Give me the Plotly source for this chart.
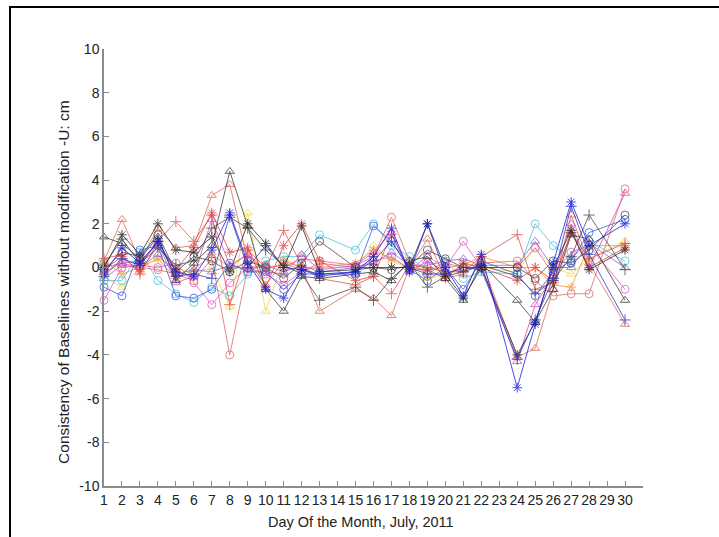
import plotly.graph_objects as go

days = [1, 2, 3, 4, 5, 6, 7, 8, 9, 10, 11, 12, 13, 15, 16, 17, 18, 19, 20, 21, 22, 24, 25, 26, 27, 28, 30]
x_ticks = list(range(1, 31))
y_ticks = list(range(-10, 11, 2))
x_title = "Day Of the Month, July, 2011"
y_title = "Consistency of Baselines without modification -U: cm"

s_blue_star = [-0.3, 0.9, 0.2, 1.2, -0.2, -0.4, 0.8, 2.5, 0.2, -1.0, -1.4, -0.1, -0.3, -0.2, 0.5, 1.8, -0.2, 2.0, 0.0, -1.3, 0.6, -5.5, -2.6, 0.2, 3.0, 1.0, 2.0]
s_red_tri = [0.3, 2.2, 0.3, 1.8, 0.9, 1.0, 3.3, 3.8, 0.3, -0.8, 0.3, 0.0, -2.0, -1.0, -1.4, -2.2, 0.0, 1.3, -0.5, -0.3, 0.3, -4.1, -3.7, -1.0, 2.4, 0.2, -2.6]
s_black_tri = [1.4, 1.1, 0.4, 1.4, -0.6, 0.2, 1.0, 4.4, 1.9, -1.0, -2.0, -0.4, -0.5, -0.3, -0.2, -0.6, 0.3, 0.5, -0.5, -1.5, 0.2, -1.5, -2.5, -1.0, 1.5, 1.3, -1.5]
s_red_circ = [-0.2, 0.2, 0.0, -0.1, -0.3, -0.6, 0.4, -4.0, 0.0, 0.1, 0.0, 0.4, 0.3, 0.1, 0.5, 2.3, 0.3, -0.3, 0.2, 0.0, 0.2, 0.3, -0.6, -1.3, -1.2, -1.2, 3.6]
s_black_star = [0.0, 1.5, 0.6, 2.0, 0.8, 0.7, 1.4, -0.2, 2.0, 1.1, 0.0, 1.9, -0.2, -0.1, 0.0, 0.0, 0.0, 2.0, -0.3, -1.4, 0.0, -4.0, -2.5, 0.0, 1.7, -0.1, 0.8]
s_cyan_circ = [-0.6, -0.6, 0.7, -0.6, -1.2, -1.6, -0.9, -1.3, -0.3, 0.3, 0.5, 0.5, 1.5, 0.8, 2.0, 1.0, 0.5, -0.2, 0.3, -0.5, -0.2, -0.3, 2.0, 1.0, 0.4, 1.2, 0.3]
s_mag_circ = [-1.5, 0.0, 0.1, 0.0, 0.2, -0.7, -1.7, -0.7, 0.0, -0.3, -0.8, -0.2, 0.2, 0.0, 0.3, 0.5, -0.1, 0.5, 0.0, 1.2, 0.0, 0.0, 0.9, -0.3, 0.7, 1.0, -1.0]
s_red_plus = [0.4, 0.6, -0.3, 1.2, 2.1, 1.2, 2.4, -1.7, 0.8, 0.0, 1.7, 0.1, -0.5, -0.8, -0.4, -1.2, 0.1, 0.0, -0.2, -0.2, 0.5, 1.5, -1.0, -0.7, 1.6, 0.4, 1.1]
s_black_plus = [0.1, 1.3, 0.2, 0.9, 0.1, 0.3, 1.8, 2.3, 1.8, 0.8, 0.1, -0.3, -1.5, -0.9, -1.5, -0.5, 0.2, -0.9, -0.4, -0.2, 0.1, -0.4, -1.2, -0.6, 0.5, 2.4, -0.1]
s_blue_circ = [-0.9, -1.3, 0.8, 1.0, -1.3, -1.4, -1.0, 0.2, -0.2, -0.2, -1.0, -0.3, -0.3, -0.3, 1.9, 1.2, -0.1, -0.6, 0.0, -1.0, 0.3, -0.3, -1.3, -0.2, 0.3, 1.6, 2.2]
s_yellow_tri = [-0.4, -0.9, 0.0, 0.4, 0.0, -0.3, 0.0, -1.8, 2.5, -2.0, 0.4, 0.0, 0.0, 0.0, 1.0, 0.3, 0.0, -0.5, -0.3, 0.0, 0.0, -0.2, 0.9, 0.0, -0.3, 0.4, 1.2]
s_orange_star = [0.3, -0.3, 0.0, 0.4, -0.5, -0.1, 0.6, 0.0, 0.6, -0.1, 0.2, -0.1, 0.0, 0.2, 0.8, 0.4, 0.0, -0.1, 0.0, 0.1, 0.5, 0.0, 0.0, -0.8, -0.9, 1.0, 1.0]
s_mag_tri = [0.0, 0.2, 0.3, 1.1, -0.7, -0.4, 2.2, 0.1, 0.6, -0.2, -0.3, 0.6, -0.1, 0.1, 0.7, 1.6, -0.2, 0.3, -0.2, -0.1, 0.1, -4.3, -1.7, -0.4, 2.0, 0.0, 3.4]
s_blue_plus = [-0.4, 0.4, 0.1, 1.2, -0.4, -0.3, -0.5, 2.4, 0.0, 1.0, 0.0, -0.1, -0.4, -0.2, 0.3, 1.2, 0.0, -0.3, -0.3, 0.0, -0.1, -4.2, -2.4, -0.5, 2.8, 0.6, -2.4]
s_black_circ = [-0.1, 0.7, 0.5, 1.5, -0.2, 0.5, 0.3, -0.2, 0.3, 0.0, -0.5, 0.2, 1.2, 0.0, 0.0, -0.1, 0.1, 0.8, 0.4, 0.0, 0.0, 0.0, -0.5, 0.3, 0.2, 0.8, 2.4]
s_red_star = [-0.1, 0.5, -0.2, 1.0, -0.1, 0.9, 2.5, 0.7, 0.9, -0.9, 1.0, 2.0, 0.3, -0.6, -0.4, 1.5, -0.1, -0.1, -0.5, 0.2, 0.0, -0.6, 0.0, -0.6, 1.6, 0.0, 0.9]
s_violet_tri = [-0.5, 0.1, 0.0, 0.6, -0.3, -0.1, -0.2, 0.1, -0.1, 0.1, -0.2, 0.1, -0.2, 0.0, 0.2, 0.7, 0.1, 0.1, 0.3, 0.4, 0.1, 0.1, 1.2, 0.0, 0.0, 1.1, 0.0]

series = [
    (s_yellow_tri, "#ecd83a", "triangle-up-open"),
    (s_orange_star, "#f09030", "asterisk-open"),
    (s_violet_tri, "#8060d0", "triangle-up-open"),
    (s_cyan_circ, "#40c0e0", "circle-open"),
    (s_mag_circ, "#e050c0", "circle-open"),
    (s_red_circ, "#e06060", "circle-open"),
    (s_red_tri, "#e06050", "triangle-up-open"),
    (s_red_plus, "#e04848", "cross-thin-open"),
    (s_red_star, "#e03a3a", "asterisk-open"),
    (s_mag_tri, "#d040c0", "triangle-up-open"),
    (s_black_circ, "#404040", "circle-open"),
    (s_black_plus, "#404040", "cross-thin-open"),
    (s_black_tri, "#303030", "triangle-up-open"),
    (s_black_star, "#202020", "asterisk-open"),
    (s_blue_circ, "#3050e0", "circle-open"),
    (s_blue_plus, "#2030c0", "cross-thin-open"),
    (s_blue_star, "#1010e0", "asterisk-open"),
]

fig = go.Figure()
for vals, col, sym in series:
    fig.add_trace(go.Scatter(
        x=days, y=vals, mode="lines+markers",
        line=dict(color=col, width=1),
        marker=dict(symbol=sym, size=8, color=col, line=dict(color=col, width=1)),
        cliponaxis=False, showlegend=False, opacity=0.75,
    ))

W, H = 719, 537
L, R, T, B = 104, 76, 49, 51
pw, ph = W - L - R, H - T - B

def px_x(p):
    return (p - L) / pw

def px_y(p):
    return (H - B - p) / ph

fig.add_shape(type="rect", xref="paper", yref="paper",
              x0=px_x(10), x1=px_x(740), y0=px_y(560), y1=px_y(7),
              line=dict(color="black", width=2), fillcolor="rgba(0,0,0,0)", layer="below")

FONT = "Liberation Sans, Arial"
axis_common = dict(
    showline=True, linecolor="#8c8c8c", linewidth=1.5, mirror=False,
    ticks="inside", ticklen=5, tickcolor="#8c8c8c", tickwidth=1,
    showgrid=False, zeroline=False,
    tickfont=dict(family=FONT, size=14, color="#222222"),
)

fig.update_layout(
    width=W, height=H,
    margin=dict(l=L, r=R, t=T, b=B, pad=0),
    paper_bgcolor="white", plot_bgcolor="white",
    font=dict(family=FONT, color="#222222"),
    xaxis=dict(range=[1, 31], tickmode="array", tickvals=x_ticks,
               ticktext=[str(v) for v in x_ticks], **axis_common),
    yaxis=dict(range=[-10, 10], tickmode="array", tickvals=y_ticks,
               ticktext=[str(v) for v in y_ticks], **axis_common),
    annotations=[
        dict(text=x_title, xref="x", x=15.3, yref="paper", y=0, yanchor="top",
             xanchor="center", yshift=-26, showarrow=False,
             font=dict(family=FONT, size=14.5, color="#222222")),
        dict(text=y_title, xref="paper", x=0, xanchor="center", xshift=-40,
             yref="paper", y=0.467, yanchor="middle", textangle=-90, showarrow=False,
             font=dict(family=FONT, size=15.5, color="#222222")),
    ],
)

fig.write_html("out.html",
               config={"displayModeBar": False},
               post_script="document.body.style.margin='0';document.body.style.overflow='hidden';")
